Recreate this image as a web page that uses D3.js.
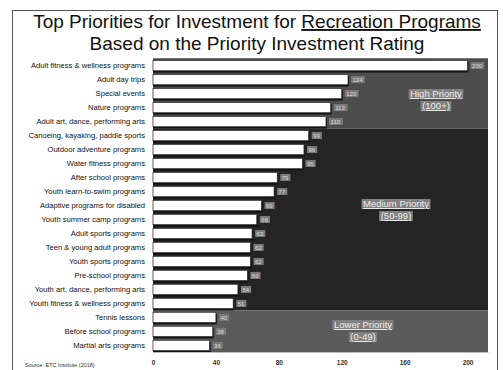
<!DOCTYPE html>
<html>
<head>
<meta charset="utf-8">
<script src="https://cdn.jsdelivr.net/npm/d3@7"></script>
<style>
  html, body { margin: 0; padding: 0; background: #fff; }
  svg { display: block; font-family: Arial, "Liberation Sans", sans-serif; }
</style>
</head>
<body>
<svg id="chart" width="503" height="370"></svg>
<script>
// Program categories, highest rating first
const programs = [
  "Adult fitness & wellness programs",
  "Adult day trips",
  "Special events",
  "Nature programs",
  "Adult art, dance, performing arts",
  "Canoeing, kayaking, paddle sports",
  "Outdoor adventure programs",
  "Water fitness programs",
  "After school programs",
  "Youth learn-to-swim programs",
  "Adaptive programs for disabled",
  "Youth summer camp programs",
  "Adult sports programs",
  "Teen & young adult programs",
  "Youth sports programs",
  "Pre-school programs",
  "Youth art, dance, performing arts",
  "Youth fitness & wellness programs",
  "Tennis lessons",
  "Before school programs",
  "Martial arts programs"
];

// Priority Investment Rating for each program
const ratings = [200, 124, 120, 113, 110, 99, 96, 95, 79, 77, 69, 66, 63, 62, 62, 60, 54, 51, 40, 38, 36];

// Axis tick values
const tickValues = [0, 40, 80, 120, 160, 200];

// Priority tiers: name, range text, lower bound of the rating
const tierNames = ["High Priority", "Medium Priority", "Lower Priority"];
const tierRanges = ["(100+)", "(50-99)", "(0-49)"];
const tierFloors = [100, 50, 0];

const svg = d3.select("#chart");

// Outer frame
svg.append("rect")
  .attr("x", 12.5).attr("y", 10.5)
  .attr("width", 485).attr("height", 370)
  .attr("fill", "none").attr("stroke", "#555").attr("stroke-width", 1);

// Title
const title = svg.append("text")
  .attr("x", 257).attr("y", 28)
  .attr("text-anchor", "middle")
  .attr("font-size", 19).attr("fill", "#111");
title.append("tspan").text("Top Priorities for Investment for ");
title.append("tspan").attr("text-decoration", "underline").text("Recreation Programs");
svg.append("text")
  .attr("x", 257).attr("y", 50)
  .attr("text-anchor", "middle")
  .attr("font-size", 19).attr("fill", "#111")
  .text("Based on the Priority Investment Rating");

const x = d3.scaleLinear().domain([0, 213]).range([153, 488]);
const y = d3.scaleBand().domain(programs).range([59, 352]).paddingInner(0.26).paddingOuter(0.1);
const step = y.step();

// Tier of each program from its rating
const tierOf = v => tierFloors.findIndex(f => v >= f);

// Background bands spanning the rows of each tier
const tierColors = ["#4d4d4d", "#242424", "#5b5b5b"];
const tierRows = tierNames.map((name, t) => {
  const rows = programs.filter((p, i) => tierOf(ratings[i]) === t);
  return { t, first: rows[0], last: rows[rows.length - 1] };
});
const bandTop = r => (r.t === 0 ? 59 : y(r.first) - step * y.paddingInner() / 2);
const bandBottom = r => (r.t === 2 ? 352 : y(r.last) + y.bandwidth() + step * y.paddingInner() / 2);

svg.append("g").selectAll("rect")
  .data(tierRows)
  .join("rect")
  .attr("x", x(0))
  .attr("y", bandTop)
  .attr("width", x.range()[1] - x(0))
  .attr("height", r => bandBottom(r) - bandTop(r))
  .attr("fill", r => tierColors[r.t]);

// Line across the top of the plot
svg.append("line")
  .attr("x1", x(0)).attr("x2", x.range()[1])
  .attr("y1", 58.5).attr("y2", 58.5)
  .attr("stroke", "#777").attr("stroke-width", 1);

// Tier captions on light grey highlight boxes
const captionPos = [
  { cx: 436, cy: 97 },
  { cx: 396, cy: 207 },
  { cx: 363, cy: 328 }
];
tierNames.forEach((name, t) => {
  const g = svg.append("g").attr("font-size", 9.5).attr("text-anchor", "middle");
  [name, tierRanges[t]].forEach((txt, k) => {
    const cy = captionPos[t].cy + k * 12;
    const label = g.append("text")
      .attr("x", captionPos[t].cx).attr("y", cy)
      .attr("fill", "#eeeeee")
      .attr("text-decoration", "underline")
      .text(txt);
    const w = label.node().getComputedTextLength();
    g.insert("rect", "text")
      .attr("x", captionPos[t].cx - w / 2 - 1.5)
      .attr("y", cy - 8)
      .attr("width", w + 3)
      .attr("height", 10)
      .attr("fill", "#808080");
  });
});

// Bars: dark shadow beneath a white bar
const rows = programs.map((p, i) => ({ p, v: ratings[i] }));
const bars = svg.append("g");
bars.selectAll("rect.shadow")
  .data(rows)
  .join("rect")
  .attr("class", "shadow")
  .attr("x", x(0))
  .attr("y", d => y(d.p) + 1.8)
  .attr("width", d => x(d.v) - x(0) + 1)
  .attr("height", y.bandwidth())
  .attr("fill", "#111");
bars.selectAll("rect.bar")
  .data(rows)
  .join("rect")
  .attr("class", "bar")
  .attr("x", x(0))
  .attr("y", d => y(d.p))
  .attr("width", d => x(d.v) - x(0))
  .attr("height", y.bandwidth())
  .attr("fill", "#fff")
  .attr("stroke", "#333")
  .attr("stroke-width", 0.8);

// Value labels in small grey boxes
const vl = svg.append("g");
vl.selectAll("rect")
  .data(rows)
  .join("rect")
  .attr("x", d => x(d.v) + 3)
  .attr("y", d => y(d.p) + y.bandwidth() / 2 - 3.5)
  .attr("width", d => (String(d.v).length * 3.6) + 3)
  .attr("height", 7)
  .attr("fill", "#7a7a7a");
vl.selectAll("text")
  .data(rows)
  .join("text")
  .attr("x", d => x(d.v) + 4.5)
  .attr("y", d => y(d.p) + y.bandwidth() / 2 + 2.2)
  .attr("font-size", 6)
  .attr("fill", "#dedede")
  .text(d => d.v);

// Category labels
svg.append("g").selectAll("text")
  .data(programs)
  .join("text")
  .attr("x", 145)
  .attr("y", p => y(p) + y.bandwidth() / 2 + 2.5)
  .attr("text-anchor", "end")
  .attr("font-size", 7.6)
  .attr("fill", "#111")
  .text(p => p);

// Bottom axis
const axis = svg.append("g")
  .attr("transform", "translate(0,352)")
  .call(d3.axisBottom(x).tickValues(tickValues).tickSize(0).tickPadding(8));
axis.select(".domain").attr("stroke", "#bbb");
axis.selectAll("text").attr("font-size", 6.5).attr("fill", "#333").attr("font-weight", "bold");

// Source note
svg.append("text")
  .attr("x", 25).attr("y", 367)
  .attr("font-size", 5.5).attr("fill", "#333")
  .text("Source:  ETC Institute (2018)");
</script>
</body>
</html>
